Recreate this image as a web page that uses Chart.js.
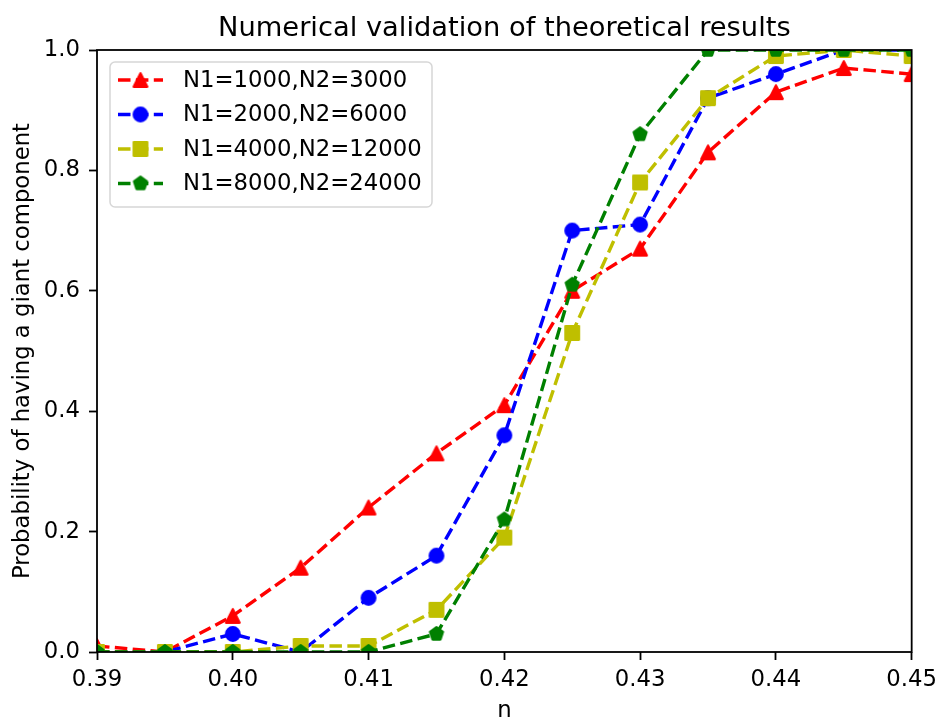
<!DOCTYPE html>
<html><head><meta charset="utf-8">
<script src="https://cdn.jsdelivr.net/npm/chart.js@4.4.1/dist/chart.umd.min.js"></script>
<style>html,body{margin:0;padding:0;background:#fff}#wrap{width:943px;height:720px;position:relative}</style>
</head><body><div id="wrap"><canvas id="c"></canvas></div>
<script>
// ---- data ----
const nValues = [0.39, 0.395, 0.40, 0.405, 0.41, 0.415, 0.42, 0.425, 0.43, 0.435, 0.44, 0.445, 0.45];
const seriesLabels = ["N1=1000,N2=3000", "N1=2000,N2=6000", "N1=4000,N2=12000", "N1=8000,N2=24000"];
const probN1000 = [0.01, 0.00, 0.06, 0.14, 0.24, 0.33, 0.41, 0.60, 0.67, 0.83, 0.93, 0.97, 0.96];
const probN2000 = [0.00, 0.00, 0.03, 0.00, 0.09, 0.16, 0.36, 0.70, 0.71, 0.92, 0.96, 1.00, 1.00];
const probN4000 = [0.00, 0.00, 0.00, 0.01, 0.01, 0.07, 0.19, 0.53, 0.78, 0.92, 0.99, 1.00, 0.99];
const probN8000 = [0.00, 0.00, 0.00, 0.00, 0.00, 0.03, 0.22, 0.61, 0.86, 1.00, 1.00, 1.00, 1.00];
const xTicks = [0.39, 0.40, 0.41, 0.42, 0.43, 0.44, 0.45];
const yTicks = [0.0, 0.2, 0.4, 0.6, 0.8, 1.0];
const titleText = "Numerical validation of theoretical results";
const xLabel = "n";
const yLabel = "Probability of having a giant component";

// ---- styles ----
const FONT = "'DejaVu Sans', 'Liberation Sans', sans-serif";
const FS = 22.75, TFS = 27.3;
const MS = 13.65, EW = 2.25;
function makeMarker(shape, color) {
  const s = 26, c = s / 2, h = MS / 2;
  const cv = document.createElement('canvas');
  cv.width = s; cv.height = s;
  const g = cv.getContext('2d');
  g.beginPath();
  if (shape === 'triangle') {
    g.moveTo(c, c - h); g.lineTo(c - h, c + h); g.lineTo(c + h, c + h); g.closePath();
  } else if (shape === 'square') {
    g.rect(c - h, c - h, MS, MS);
  } else if (shape === 'pentagon') {
    for (let k = 0; k < 5; k++) {
      const a = -Math.PI / 2 + k * 2 * Math.PI / 5;
      const px = c + h * Math.cos(a), py = c + h * Math.sin(a);
      k ? g.lineTo(px, py) : g.moveTo(px, py);
    }
    g.closePath();
  } else {
    g.arc(c, c, h, 0, Math.PI * 2);
  }
  g.fillStyle = color; g.fill();
  g.lineWidth = EW; g.strokeStyle = color; g.lineJoin = 'round'; g.stroke();
  return cv;
}
const colors = ['#ff0000', '#0000ff', '#bfbf00', '#008000'];
const shapes = ['triangle', 'circle', 'square', 'pentagon'];
const seriesValues = [probN1000, probN2000, probN4000, probN8000];
const markers = colors.map((c, i) => makeMarker(shapes[i], c));

const datasets = seriesValues.map((vals, i) => ({
  label: seriesLabels[i],
  data: nValues.map((x, j) => ({ x: x, y: vals[j] })),
  borderColor: colors[i],
  backgroundColor: colors[i],
  borderWidth: 3.4,
  borderDash: [12.5, 5.4],
  borderCapStyle: 'butt',
  tension: 0,
  fill: false,
  pointStyle: markers[i],
  pointRadius: 7,
  pointHoverRadius: 7,
  clip: 0,
  order: 4 - i
}));

const decor = {
  id: 'decor',
  afterDraw(chart) {
    const ctx = chart.ctx, a = chart.chartArea;
    ctx.save();
    // spines
    ctx.strokeStyle = '#000'; ctx.lineWidth = 1.8;
    ctx.strokeRect(a.left, a.top, a.right - a.left, a.bottom - a.top);
    // legend
    const lx = 110, ly = 62, lw = 322, lh = 145;
    ctx.beginPath();
    ctx.roundRect(lx, ly, lw, lh, 5);
    ctx.fillStyle = 'rgba(255,255,255,0.8)'; ctx.fill();
    ctx.strokeStyle = 'rgba(204,204,204,0.8)'; ctx.lineWidth = 1.5; ctx.stroke();
    chart.data.datasets.forEach((ds, i) => {
      const yy = 80 + i * 34.5;
      ctx.beginPath();
      ctx.setLineDash(ds.borderDash); ctx.lineCap = 'butt';
      ctx.strokeStyle = ds.borderColor; ctx.lineWidth = ds.borderWidth;
      ctx.moveTo(118, yy); ctx.lineTo(163, yy); ctx.stroke();
      ctx.setLineDash([]);
      const m = ds.pointStyle;
      ctx.drawImage(m, 140.5 - m.width / 2, yy - m.height / 2);
      ctx.fillStyle = '#000'; ctx.font = FS + 'px ' + FONT;
      ctx.textAlign = 'left'; ctx.textBaseline = 'middle';
      ctx.fillText(ds.label, 183, yy + 1);
    });
    // title
    const cx = (a.left + a.right) / 2;
    ctx.fillStyle = '#000';
    ctx.font = TFS + 'px ' + FONT; ctx.textAlign = 'center'; ctx.textBaseline = 'alphabetic';
    ctx.fillText(titleText, cx, 36);
    // x label
    ctx.font = FS + 'px ' + FONT;
    ctx.fillText(xLabel, cx, 717);
    // y label
    ctx.translate(29, (a.top + a.bottom) / 2);
    ctx.rotate(-Math.PI / 2);
    ctx.fillText(yLabel, 0, 0);
    ctx.restore();
  }
};

Chart.defaults.font.family = FONT;
new Chart(document.getElementById('c'), {
  type: 'line',
  data: { datasets: datasets },
  options: {
    responsive: true, maintainAspectRatio: false, animation: false,
    layout: { padding: { top: 50, right: 28, left: 0, bottom: 0 } },
    plugins: { legend: { display: false }, title: { display: false }, tooltip: { enabled: false } },
    scales: {
      x: {
        type: 'linear', min: 0.39, max: 0.45,
        afterBuildTicks: s => { s.ticks = xTicks.map(v => ({ value: v })); },
        afterFit: s => { s.height = 68; },
        ticks: { callback: v => Number(v).toFixed(2), color: '#000', font: { size: FS }, padding: 6, maxRotation: 0, autoSkip: false },
        grid: { display: true, drawOnChartArea: false, drawTicks: true, tickLength: 8, tickWidth: 1.8, tickColor: '#000', color: '#000' },
        border: { display: false }
      },
      y: {
        type: 'linear', min: 0, max: 1,
        afterBuildTicks: s => { s.ticks = yTicks.map(v => ({ value: v })); },
        afterFit: s => { s.width = 97; },
        ticks: { callback: v => Number(v).toFixed(1), color: '#000', font: { size: FS }, padding: 9, autoSkip: false },
        grid: { display: true, drawOnChartArea: false, drawTicks: true, tickLength: 8, tickWidth: 1.8, tickColor: '#000', color: '#000' },
        border: { display: false }
      }
    }
  },
  plugins: [decor]
});
</script></body></html>
